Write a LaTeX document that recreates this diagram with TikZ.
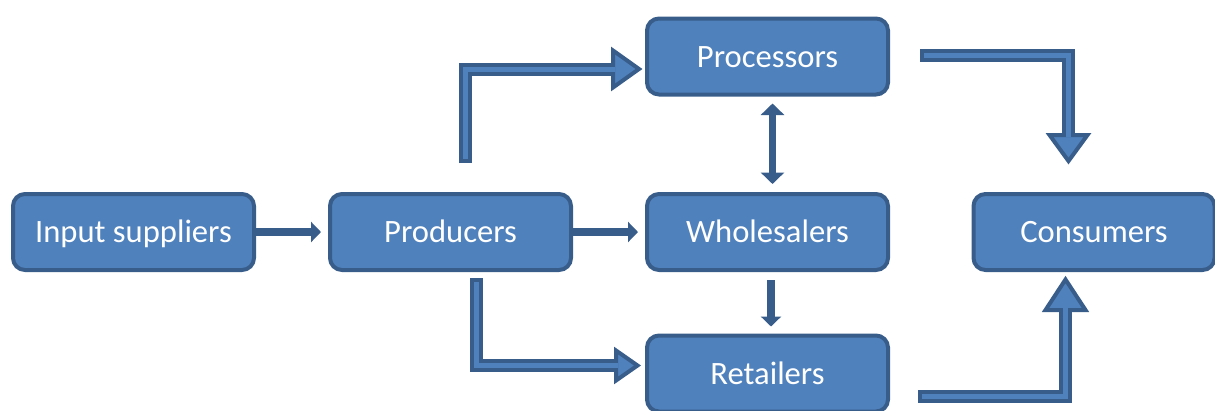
\documentclass[tikz,border=0pt]{standalone}
\usepackage{fontspec}
\setmainfont{Carlito}
\usetikzlibrary{arrows.meta}
\definecolor{boxfill}{HTML}{4F81BD}
\definecolor{boxline}{HTML}{385D8A}
\begin{document}
\begin{tikzpicture}[x=1pt,y=-1pt,
  box/.style={draw=boxline, fill=boxfill, line width=4pt, rounded corners=12pt,
    minimum width=241pt, minimum height=76pt, inner sep=0pt, text=white,
    font=\fontsize{32.6}{38}\selectfont, text height=21pt, text depth=0pt},
  thinarrow/.style={draw=boxline, line width=8pt, -{Triangle[length=10pt,width=20pt]}},
  dblarrow/.style={draw=boxline, line width=7pt, {Triangle[length=11.5pt,width=23pt]}-{Triangle[length=11.5pt,width=23pt]}},
  headst/.style={fill=boxfill, draw=boxline, line width=4pt, line join=miter},
  shaftout/.style={draw=boxline, line width=13pt},
  shaftin/.style={draw=boxfill, line width=5pt, shorten <=4pt}]
\useasboundingbox (0,0) rectangle (1215,410);

\node[box] (inp)   at (133.5,232) {Input suppliers};
\node[box] (prod)  at (450.5,232) {Producers};
\node[box] (whole) at (767.5,232) {Wholesalers};
\node[box] (cons)  at (1094,232)  {Consumers};
\node[box] (proc)  at (767.5,56.5) {Processors};
\node[box] (ret)   at (767.5,373.5) {Retailers};

% straight arrows
\draw[thinarrow, shorten >=7pt] (inp.east) -- (prod.west);
\draw[thinarrow, shorten >=7pt] (prod.east) -- (whole.west);
\draw[dblarrow, shorten <=7pt, shorten >=8pt] ([xshift=5pt]proc.south) -- ([xshift=5pt]whole.north);
\draw[thinarrow, shorten <=8pt, shorten >=7pt] ([xshift=3.5pt]whole.south) -- ([xshift=3.5pt]ret.north);

% bent block arrows
\coordinate (s5) at (465.5,163);
\coordinate (e5) at (615,69);
\coordinate (s6) at (476,278);
\coordinate (e6) at (618,365.5);
\coordinate (s7) at (920,55);
\coordinate (e7) at (1068.5,137);
\coordinate (s8) at (918,396.5);
\coordinate (e8) at (1065.5,308);

\draw[headst] (613,50.5) -- (639,69) -- (613,87.5) -- cycle;
\draw[shaftout] (s5) |- (e5);
\draw[shaftin] (s5) |- (e5);

\draw[headst] (616,350.5) -- (637.5,365.5) -- (616,380.5) -- cycle;
\draw[shaftout] (s6) |- (e6);
\draw[shaftin] (s6) |- (e6);

\draw[headst] (1049.5,135) -- (1068.5,161) -- (1087.5,135) -- cycle;
\draw[shaftout] (s7) -| (e7);
\draw[shaftin] (s7) -| (e7);

\draw[headst] (1045.5,310) -- (1065.5,279.5) -- (1085.5,310) -- cycle;
\draw[shaftout] (s8) -| (e8);
\draw[shaftin] (s8) -| (e8);
\end{tikzpicture}
\end{document}
